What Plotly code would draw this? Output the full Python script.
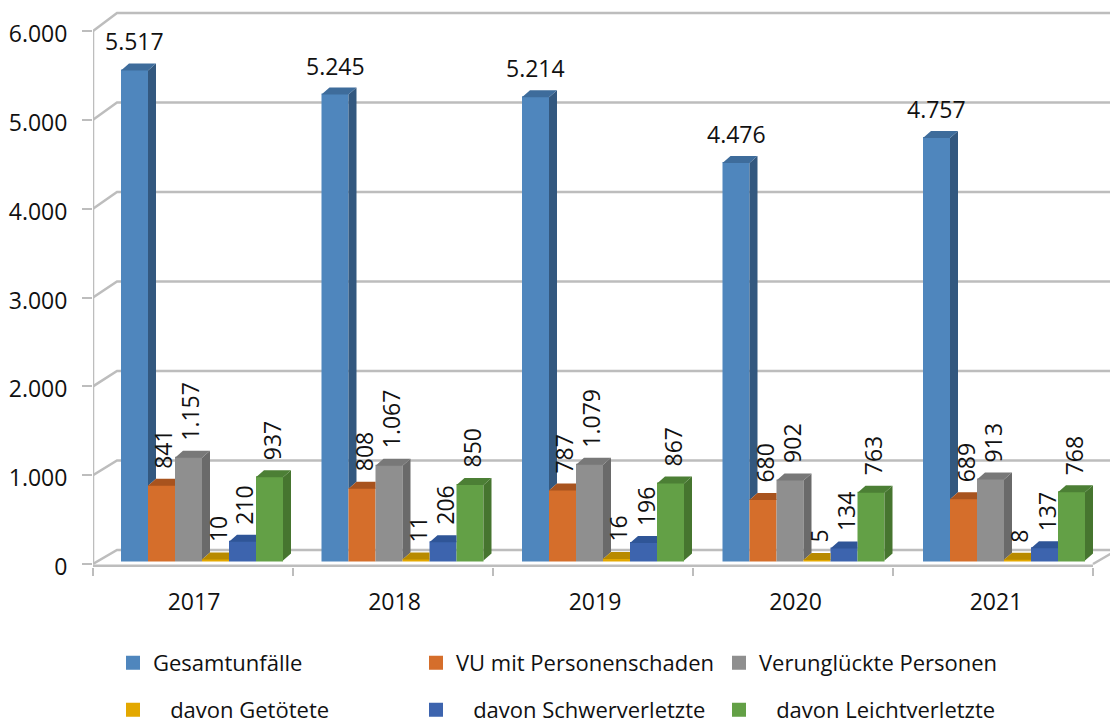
import plotly.graph_objects as go

years = ["2017", "2018", "2019", "2020", "2021"]
series_names = ["Gesamtunfälle", "VU mit Personenschaden", "Verunglückte Personen",
                "\u00a0\u00a0\u00a0davon Getötete", "\u00a0\u00a0\u00a0davon Schwerverletzte", "\u00a0\u00a0\u00a0davon Leichtverletzte"]
gesamt = [5517, 5245, 5214, 4476, 4757]
vu = [841, 808, 787, 680, 689]
verunglueckt = [1157, 1067, 1079, 902, 913]
getoetet = [10, 11, 16, 5, 8]
schwer = [210, 206, 196, 134, 137]
leicht = [937, 850, 867, 763, 768]
series = [gesamt, vu, verunglueckt, getoetet, schwer, leicht]
y_ticks = [0, 1000, 2000, 3000, 4000, 5000, 6000]
y_labels = ["0", "1.000", "2.000", "3.000", "4.000", "5.000", "6.000"]

front = ["#4F86BD", "#D56E2B", "#8F8F8F", "#E3A800", "#3D64AE", "#63A046"]
side = ["#33587F", "#A04F1C", "#6A6A6A", "#A87C00", "#2B4A85", "#46752F"]
top = ["#3E6C9B", "#A8531E", "#787878", "#B88A00", "#2F5597", "#4C7F35"]

W, H = 1110, 724
ML, MT, MB = 93, 5, 157
PX_X = 200.0            # pixels per category
PX_Y = 88.83 / 1000     # pixels per unit
X_MAX = (W - ML) / PX_X
Y_MIN = -3 / PX_Y
Y_MAX = (564 - MT) / PX_Y
GRID = "#BDBDBD"
STEP = 200.5 / PX_X     # spacing of the bar groups

wall_dx = 24 / PX_X
bar_dx, bar_dy = 8 / PX_X, 7 / PX_Y
bar_w = 27 / PX_X
bar_start = 28 / PX_X
lift = 3.5 / PX_Y


def wall_dy(v):
    return (14 + 4 * v / y_ticks[-1]) / PX_Y


fig = go.Figure()

# front faces
for k, vals in enumerate(series):
    fig.add_trace(go.Bar(
        x=[i * STEP + bar_start + k * bar_w for i in range(len(years))],
        y=vals, base=lift, width=(bar_w - 2 / PX_X), offset=1 / PX_X,
        name=series_names[k], legend="legend" if k < 3 else "legend2",
        marker=dict(color=front[k], line=dict(color=front[k], width=2)),
        hoverinfo="skip",
    ))

# side and top faces, hidden where the next bar covers them
for k, vals in enumerate(series):
    sx, sy, tx, ty = [], [], [], []
    for i, v in enumerate(vals):
        l = i * STEP + bar_start + k * bar_w
        r = l + bar_w
        t = v + lift
        nxt = series[k + 1][i] + lift if k + 1 < len(series) else lift
        if t > nxt:
            sx += [r, r + bar_dx, r + bar_dx, r, r, None]
            sy += [nxt, nxt + bar_dy, t + bar_dy, t, nxt, None]
            tx += [l, r, r + bar_dx, l + bar_dx, l, None]
            ty += [t, t, t + bar_dy, t + bar_dy, t, None]
        else:
            tx += [l, r, r, l + bar_dx, l, None]
            ty += [t, t, t + bar_dy, t + bar_dy, t, None]
    for xs, ys, c in ((sx, sy, side[k]), (tx, ty, top[k])):
        if xs:
            fig.add_trace(go.Scatter(x=xs, y=ys, mode="lines", fill="toself", fillcolor=c,
                                     line=dict(width=0, color=c), showlegend=False, hoverinfo="skip"))

# walls and floor, behind the bars
shapes = []
line = dict(color=GRID, width=2.5)
for v in y_ticks:
    path = f"M 0 {v} L {wall_dx} {v + wall_dy(v)} L {X_MAX} {v + wall_dy(v)}"
    shapes.append(dict(type="path", xref="x", yref="y", path=path, line=line, layer="below"))
shapes.append(dict(type="line", xref="x", yref="y", x0=0, x1=0, y0=y_ticks[0], y1=y_ticks[-1], line=line, layer="below"))
shapes.append(dict(type="line", xref="x", yref="y", x0=0, x1=len(years), y0=Y_MIN * 0.6, y1=Y_MIN * 0.6, line=line, layer="below"))
shapes.append(dict(type="line", xref="x", yref="y", x0=len(years), x1=len(years) + wall_dx,
                   y0=0, y1=wall_dy(0), line=line, layer="below"))

# data labels
annotations = []
font = dict(family="Open Sans", size=23, color="#111111")
for k, vals in enumerate(series):
    for i, v in enumerate(vals):
        xc = i * STEP + bar_start + (k + 0.5) * bar_w
        txt = f"{v:,}".replace(",", ".")
        if k == 0:
            annotations.append(dict(x=xc, y=v + lift, text=txt, showarrow=False, font=font,
                                    yanchor="bottom", xanchor="center", yshift=11))
        else:
            annotations.append(dict(x=xc, y=v + lift, text=txt, showarrow=False, font=font, textangle=-90,
                                    yanchor="bottom", xanchor="center", yshift=15, xshift=2))

fig.update_layout(
    width=W, height=H, margin=dict(l=ML, r=0, t=MT, b=MB, pad=0),
    barmode="overlay", plot_bgcolor="white", paper_bgcolor="white",
    font=dict(family="Open Sans", size=23, color="#111111"),
    shapes=shapes, annotations=annotations,
    xaxis=dict(range=[0, X_MAX], tickmode="array", tickvals=[i * STEP + 0.505 for i in range(len(years))],
               ticktext=years, ticks="", ticklen=0, showgrid=False, zeroline=False, showline=False,
               ticklabelstandoff=19, tickfont=dict(size=23),
               minor=dict(tickmode="array", tickvals=list(range(len(years) + 1)), ticks="outside",
                          ticklen=8, tickwidth=2, tickcolor=GRID, showgrid=False)),
    yaxis=dict(range=[Y_MIN, Y_MAX], tickmode="array", tickvals=y_ticks, ticktext=y_labels,
               ticks="outside", ticklen=10, tickwidth=2, tickcolor=GRID, showgrid=False,
               zeroline=False, showline=False, ticklabelstandoff=10, ticklabelshift=3,
               tickfont=dict(size=23)),
    legend=dict(orientation="h", xref="container", yref="container", x=113 / W, y=1 - 663 / H,
                xanchor="left", yanchor="middle", entrywidth=258, entrywidthmode="pixels",
                font=dict(size=22), traceorder="normal"),
    legend2=dict(orientation="h", xref="container", yref="container", x=113 / W, y=1 - 710 / H,
                 xanchor="left", yanchor="middle", entrywidth=258, entrywidthmode="pixels",
                 font=dict(size=22), traceorder="normal"),
)

fig.write_html("out.html", config={"displayModeBar": False},
               post_script="document.body.style.margin='0';")
